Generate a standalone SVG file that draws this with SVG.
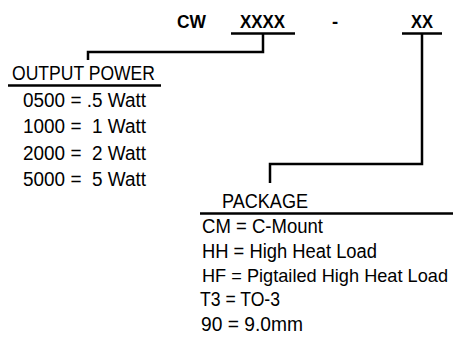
<svg xmlns="http://www.w3.org/2000/svg" width="456" height="339" viewBox="0 0 456 339">
<style>
text{font-family:"Liberation Sans",Arial,sans-serif;font-size:19.5px;fill:#000}
.b{font-weight:bold;font-size:18.5px}
.ln{stroke:#000;stroke-width:2.5;fill:none;stroke-linecap:butt;stroke-linejoin:miter}
</style>
<rect width="456" height="339" fill="#fff"/>
<g id="code">
<text class="b" x="177" y="28" textLength="29" lengthAdjust="spacingAndGlyphs">CW</text>
<text class="b" x="240" y="28" textLength="45" lengthAdjust="spacingAndGlyphs">XXXX</text>
<text class="b" x="332" y="28">-</text>
<text class="b" x="411" y="28" textLength="22" lengthAdjust="spacingAndGlyphs">XX</text>
<line class="ln" x1="231" y1="33.5" x2="295" y2="33.5"/>
<line class="ln" x1="402" y1="33.5" x2="442" y2="33.5"/>
</g>
<g id="connectors">
<path class="ln" d="M263,33.5 V52 H88 V60"/>
<path class="ln" d="M422,33.5 V164 H270 V183"/>
</g>
<g id="output-power">
<text x="12" y="80" textLength="143" lengthAdjust="spacingAndGlyphs">OUTPUT POWER</text>
<line class="ln" x1="8" y1="85.5" x2="161" y2="85.5"/>
<text x="23" y="106.5" textLength="123" lengthAdjust="spacingAndGlyphs">0500 = .5 Watt</text>
<text x="23" y="133" textLength="123" lengthAdjust="spacingAndGlyphs" xml:space="preserve">1000 =  1 Watt</text>
<text x="23" y="159.5" textLength="123" lengthAdjust="spacingAndGlyphs" xml:space="preserve">2000 =  2 Watt</text>
<text x="23" y="186" textLength="123" lengthAdjust="spacingAndGlyphs" xml:space="preserve">5000 =  5 Watt</text>
</g>
<g id="package">
<text x="222" y="208" textLength="86" lengthAdjust="spacingAndGlyphs">PACKAGE</text>
<line class="ln" x1="200" y1="213.5" x2="453" y2="213.5"/>
<text x="202" y="233" textLength="121" lengthAdjust="spacingAndGlyphs">CM = C-Mount</text>
<text x="202" y="257.5" textLength="175" lengthAdjust="spacingAndGlyphs">HH = High Heat Load</text>
<text x="202" y="282" style="font-size:18.2px" textLength="246" lengthAdjust="spacingAndGlyphs">HF = Pigtailed High Heat Load</text>
<text x="200" y="306" textLength="80" lengthAdjust="spacingAndGlyphs">T3 = TO-3</text>
<text x="201" y="331" textLength="102" lengthAdjust="spacingAndGlyphs">90 = 9.0mm</text>
</g>
</svg>
